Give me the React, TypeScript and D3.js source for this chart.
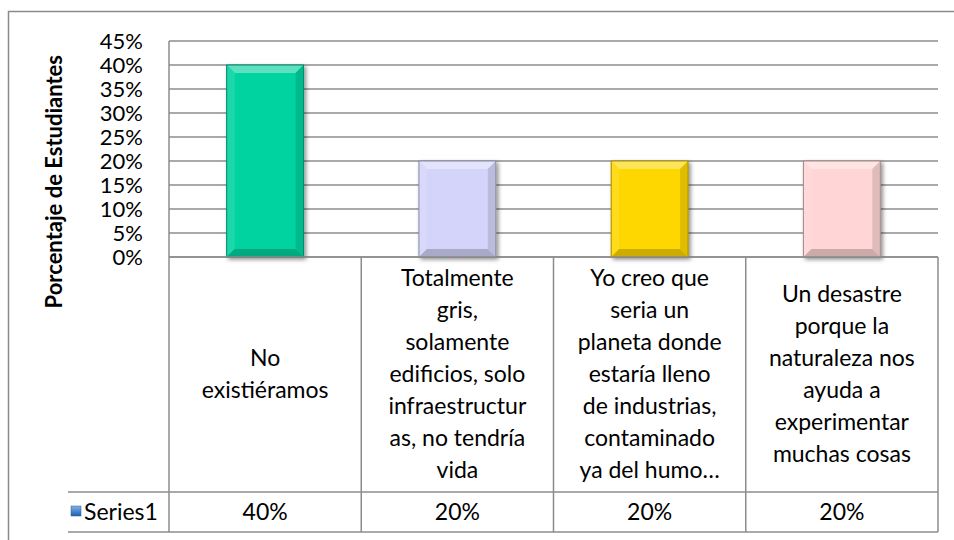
import React from "react";
import * as d3 from "d3";

const categories: string[][] = [
  ["No", "existiéramos"],
  ["Totalmente", "gris,", "solamente", "edificios, solo", "infraestructur", "as, no tendría", "vida"],
  ["Yo creo que", "seria un", "planeta donde", "estaría lleno", "de industrias,", "contaminado", "ya del humo…"],
  ["Un desastre", "porque la", "naturaleza nos", "ayuda a", "experimentar", "muchas cosas"],
];
const values: number[] = [0.4, 0.2, 0.2, 0.2];
const seriesName = "Series1";
const yTicks: number[] = [0, 0.05, 0.1, 0.15, 0.2, 0.25, 0.3, 0.35, 0.4, 0.45];
const barColors: string[] = ["#04D3A0", "#D4D4FA", "#FFD700", "#FFD5D5"];
const yTitle = "Porcentaje de Estudiantes";

const W = 954;
const H = 540;
const plotL = 169;
const plotR = 938;
const plotT = 41;
const plotB = 257;
const rowDiv = 492;
const tableB = 532;
const legendL = 68;
const FONT = "Lato, 'Open Sans', sans-serif";
const FS = 23;
const gridColor = "#8c8c8c";

function mix(c: string, target: string, t: number) {
  return d3.interpolateRgb(c, target)(t);
}

export default function App() {
  const x = d3
    .scaleBand<number>()
    .domain(d3.range(categories.length))
    .range([plotL, plotR])
    .paddingInner(0)
    .paddingOuter(0);
  const y = d3.scaleLinear().domain([0, 0.45]).range([plotB, plotT]);
  const fmt = d3.format(".0%");
  const bw = x.bandwidth() * 0.4;
  const bev = 8;

  return (
    <svg
      width={W}
      height={H}
      style={{ position: "absolute", left: 0, top: 0, background: "#fff" }}
      fontFamily={FONT}
    >
      <defs>
        <filter id="sh" x="-20%" y="-20%" width="150%" height="150%">
          <feGaussianBlur in="SourceAlpha" stdDeviation="2" />
          <feOffset dx="2" dy="2" result="o" />
          <feComponentTransfer>
            <feFuncA type="linear" slope="0.45" />
          </feComponentTransfer>
          <feMerge>
            <feMergeNode />
            <feMergeNode in="SourceGraphic" />
          </feMerge>
        </filter>
        <linearGradient id="leg" x1="0" y1="0" x2="0" y2="1">
          <stop offset="0" stopColor="#7fb2e8" />
          <stop offset="1" stopColor="#1f5fb0" />
        </linearGradient>
      </defs>
      <rect x={8.5} y={11.5} width={W + 20} height={H + 20} fill="none" stroke="#8a8a8a" strokeWidth={1.5} />

      {/* gridlines */}
      {yTicks.map((t) => (
        <line key={t} x1={plotL} x2={plotR} y1={y(t)} y2={y(t)} stroke={gridColor} strokeWidth={1.5} />
      ))}
      <line x1={plotL} x2={plotL} y1={plotT} y2={tableB} stroke={gridColor} strokeWidth={1.5} />

      {/* tick labels */}
      {yTicks.map((t) => (
        <text key={t} x={143} y={y(t)} dy="0.36em" textAnchor="end" fontSize={22} fill="#000">
          {fmt(t)}
        </text>
      ))}

      {/* axis title */}
      <text
        transform="translate(62, 55) rotate(-90)"
        textAnchor="end"
        fontSize={22}
        fontWeight="bold"
        fill="#000"
      >
        {yTitle}
      </text>

      {/* bars */}
      {values.map((v, i) => {
        const cx = (x(i) as number) + x.bandwidth() / 2;
        const x0 = cx - bw / 2;
        const x1 = cx + bw / 2;
        const y0 = y(v);
        const y1 = y(0);
        const c = barColors[i];
        const pts = (a: number[][]) => a.map((p) => p.join(",")).join(" ");
        return (
          <g key={i} filter="url(#sh)">
            <rect x={x0} y={y0} width={bw} height={y1 - y0} fill={c} />
            <polygon points={pts([[x0, y0], [x1, y0], [x1 - bev, y0 + bev], [x0 + bev, y0 + bev]])} fill={mix(c, "#fff", 0.35)} />
            <polygon points={pts([[x0, y0], [x0 + bev, y0 + bev], [x0 + bev, y1 - bev], [x0, y1]])} fill={mix(c, "#fff", 0.1)} />
            <polygon points={pts([[x1, y0], [x1 - bev, y0 + bev], [x1 - bev, y1 - bev], [x1, y1]])} fill={mix(c, "#000", 0.12)} />
            <polygon points={pts([[x0, y1], [x1, y1], [x1 - bev, y1 - bev], [x0 + bev, y1 - bev]])} fill={mix(c, "#000", 0.2)} />
            <rect x={x0} y={y0} width={bw} height={y1 - y0} fill="none" stroke={mix(c, "#000", 0.35)} strokeWidth={1} />
          </g>
        );
      })}

      {/* table lines */}
      <line x1={plotL} x2={plotR} y1={plotB} y2={plotB} stroke={gridColor} strokeWidth={1.5} />
      <line x1={legendL} x2={plotR} y1={rowDiv} y2={rowDiv} stroke={gridColor} strokeWidth={1.5} />
      <line x1={legendL} x2={plotR} y1={tableB} y2={tableB} stroke={gridColor} strokeWidth={1.5} />
      {categories.map((_, i) => (
        <line
          key={i}
          x1={(x(i) as number) + x.bandwidth()}
          x2={(x(i) as number) + x.bandwidth()}
          y1={plotB}
          y2={tableB}
          stroke={gridColor}
          strokeWidth={1.5}
        />
      ))}

      {/* category labels */}
      {categories.map((lines, i) => {
        const cx = (x(i) as number) + x.bandwidth() / 2;
        const lh = 32;
        const mid = (plotB + rowDiv) / 2 - 1;
        const top = mid - ((lines.length - 1) * lh) / 2;
        return (
          <text key={i} x={cx} textAnchor="middle" fontSize={FS} fill="#000">
            {lines.map((l, j) => (
              <tspan key={j} x={cx} y={top + j * lh} dy="0.36em">
                {l}
              </tspan>
            ))}
          </text>
        );
      })}

      {/* data row */}
      <rect x={legendL + 3} y={506} width={10} height={10} fill="url(#leg)" stroke="#2a5d9c" strokeWidth={0.5} />
      <text x={legendL + 16} y={(rowDiv + tableB) / 2} dy="0.36em" fontSize={FS} fill="#000">
        {seriesName}
      </text>
      {values.map((v, i) => (
        <text
          key={i}
          x={(x(i) as number) + x.bandwidth() / 2}
          y={(rowDiv + tableB) / 2}
          dy="0.36em"
          textAnchor="middle"
          fontSize={FS}
          fill="#000"
        >
          {fmt(v)}
        </text>
      ))}
    </svg>
  );
}
